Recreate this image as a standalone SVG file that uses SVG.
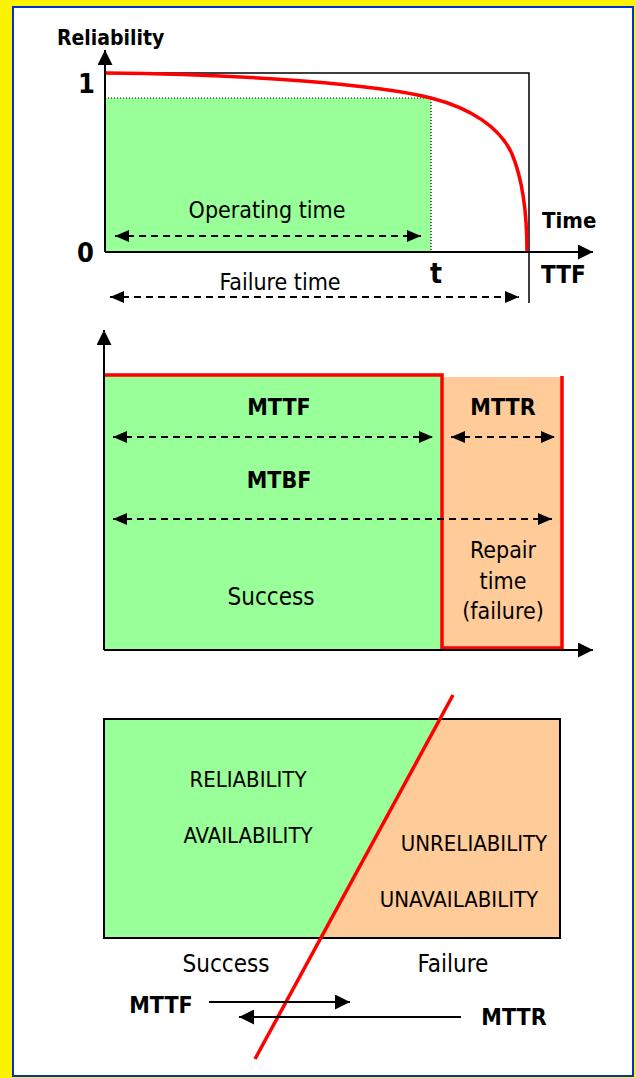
<svg xmlns="http://www.w3.org/2000/svg" width="636" height="1078" viewBox="0 0 636 1078">
  <style>
    text { font-family: "DejaVu Sans Condensed", "DejaVu Sans", "Liberation Sans", sans-serif; fill: #000; }
    .b { font-weight: bold; }
    .c { text-anchor: middle; }
    .axis { stroke: #000; stroke-width: 2; fill: none; }
    .thin { stroke: #000; stroke-width: 1.5; fill: none; }
    .dash { stroke: #000; stroke-width: 2; stroke-dasharray: 7 5; fill: none; }
    .dot { stroke: #000; stroke-width: 1.2; stroke-dasharray: 1 2; fill: none; }
    .red { stroke: #ff0000; stroke-width: 3.5; fill: none; }
    .ok { fill: #99ff99; }
    .ko { fill: #ffcc99; }
  </style>
  <defs>
    <marker id="ah" viewBox="0 0 14 12" refX="14" refY="6" markerWidth="14" markerHeight="12" markerUnits="userSpaceOnUse" orient="auto-start-reverse">
      <path d="M0,0 L14,6 L0,12 Z" fill="#000"/>
    </marker>
    <marker id="big" viewBox="0 0 15 15" refX="15" refY="7.5" markerWidth="15" markerHeight="15" markerUnits="userSpaceOnUse" orient="auto-start-reverse">
      <path d="M0,0 L15,7.5 L0,15 Z" fill="#000"/>
    </marker>
  </defs>

  <!-- frame -->
  <rect x="0" y="0" width="636" height="1078" fill="#fff200"/>
  <rect x="13" y="7" width="620" height="1069" fill="#ffffff" stroke="#0033cc" stroke-width="2"/>

  <!-- reliability curve panel -->
  <g id="reliability-curve">
    <rect class="ok" x="105" y="98" width="326" height="154"/>
    <path class="dot" d="M105,98 H431 V252"/>
    <path class="thin" d="M105,73 H529 V303"/>
    <path class="red" d="M105,73 C250,74 380,85 431,98 C470,108 500,127 512,154 C522,178 527,212 527,252"/>
    <text class="b" x="57" y="45" font-size="21">Reliability</text>
    <text class="b" x="78" y="93" font-size="27">1</text>
    <text class="b" x="77" y="262" font-size="27">0</text>
    <text class="b c" x="436" y="283" font-size="28">t</text>
    <text class="b" x="542" y="228" font-size="22">Time</text>
    <text class="b" x="541" y="283" font-size="24">TTF</text>
    <text class="c" x="267" y="218" font-size="23">Operating time</text>
    <text class="c" x="280" y="290" font-size="23">Failure time</text>
  </g>

  <!-- MTTF / MTTR / MTBF panel -->
  <g id="mtbf-timeline">
    <rect class="ok" x="104" y="375" width="338" height="275"/>
    <rect class="ko" x="442" y="377" width="120" height="271"/>
    <path class="red" d="M104,375 H442 V648 H562 V376"/>
    <text class="b c" x="279" y="415" font-size="23">MTTF</text>
    <text class="b c" x="503" y="415" font-size="23">MTTR</text>
    <text class="b c" x="279" y="488" font-size="23">MTBF</text>
    <text class="c" x="271" y="605" font-size="24">Success</text>
    <text class="c" x="503" y="558" font-size="23">Repair</text>
    <text class="c" x="503" y="589" font-size="23">time</text>
    <text class="c" x="503" y="619" font-size="23">(failure)</text>
  </g>

  <!-- success / failure panel -->
  <g id="success-failure">
    <polygon class="ok" points="104,719 440,719 321,938 104,938"/>
    <polygon class="ko" points="440,719 560,719 560,938 321,938"/>
    <rect x="104" y="719" width="456" height="219" fill="none" stroke="#000" stroke-width="2"/>
    <line class="red" x1="453" y1="695" x2="255" y2="1059"/>
    <text class="c" x="248" y="787" font-size="22">RELIABILITY</text>
    <text class="c" x="248" y="843" font-size="22">AVAILABILITY</text>
    <text class="c" x="474" y="851" font-size="22">UNRELIABILITY</text>
    <text class="c" x="459" y="907" font-size="22">UNAVAILABILITY</text>
    <text class="c" x="226" y="972" font-size="24">Success</text>
    <text class="c" x="453" y="972" font-size="24">Failure</text>
    <text class="b c" x="161" y="1013" font-size="23">MTTF</text>
    <text class="b c" x="514" y="1025" font-size="23">MTTR</text>
  </g>

  <!-- axes and arrows -->
  <g id="connectors">
    <path class="axis" d="M105,252 V50" marker-end="url(#big)"/>
    <path class="axis" d="M105,252 H593" marker-end="url(#big)"/>
    <line class="dash" x1="115" y1="236" x2="421" y2="236" marker-start="url(#ah)" marker-end="url(#ah)"/>
    <line class="dash" x1="110" y1="297" x2="519" y2="297" marker-start="url(#ah)" marker-end="url(#ah)"/>

    <path class="axis" d="M104,650 V330" marker-end="url(#big)"/>
    <path class="axis" d="M104,650 H593" marker-end="url(#big)"/>
    <line class="dash" x1="113" y1="437" x2="433" y2="437" marker-start="url(#ah)" marker-end="url(#ah)"/>
    <line class="dash" x1="451" y1="437" x2="555" y2="437" marker-start="url(#ah)" marker-end="url(#ah)"/>
    <line class="dash" x1="113" y1="519" x2="552" y2="519" marker-start="url(#ah)" marker-end="url(#ah)"/>

    <line class="axis" x1="209" y1="1002" x2="350" y2="1002" marker-end="url(#big)"/>
    <line class="axis" x1="461" y1="1017" x2="239" y2="1017" marker-end="url(#big)"/>
  </g>
</svg>
